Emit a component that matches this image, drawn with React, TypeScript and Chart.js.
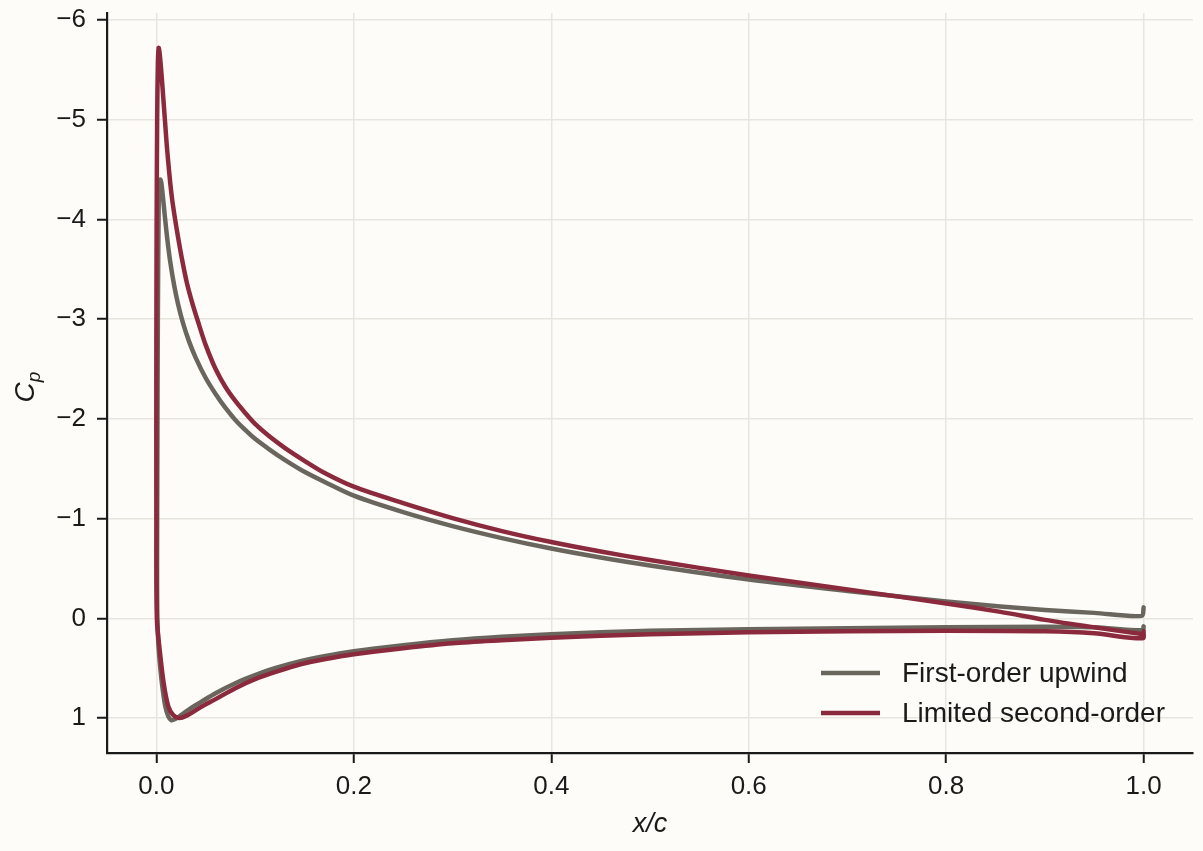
import { useEffect, useRef } from 'react';
import { Chart, registerables } from 'chart.js';

Chart.register(...registerables);

const FONT = '"Liberation Sans", Arial, sans-serif';
const TEXT = '#1a1a1a';
const AXIS = '#1a1a1a';
const GRID = '#e8e5de';
const BG = '#fdfcf9';
const GRAY = '#6a665e';
const RED = '#8b2a3c';

// first-order upwind: trailing edge (upper) -> leading edge -> trailing edge (lower)
const firstX = [
  1.0, 0.998, 0.95, 0.9, 0.855, 0.8, 0.7, 0.6, 0.5, 0.45, 0.4, 0.35, 0.3, 0.25, 0.2, 0.17, 0.15,
  0.13, 0.115, 0.1, 0.09, 0.08, 0.07, 0.06, 0.05, 0.04, 0.033, 0.027, 0.022, 0.018, 0.014, 0.011,
  0.0085, 0.0065, 0.005, 0.004, 0.003, 0.0023, 0.0015, 0.001, 0.0007,
  0.001, 0.002, 0.004, 0.006, 0.009, 0.012, 0.015, 0.019, 0.025, 0.035, 0.045, 0.06, 0.08, 0.1,
  0.12, 0.146, 0.17, 0.2, 0.25, 0.3, 0.35, 0.4, 0.45, 0.5, 0.6, 0.7, 0.8, 0.9, 0.95, 0.999, 1.0,
];
const firstCp = [
  -0.11, -0.025, -0.055, -0.085, -0.12, -0.17, -0.275, -0.39, -0.53, -0.61, -0.7, -0.805, -0.925, -1.065, -1.23, -1.37, -1.47,
  -1.59, -1.69, -1.8, -1.89, -1.99, -2.11, -2.25, -2.41, -2.61, -2.78, -2.96, -3.15, -3.34, -3.58, -3.81,
  -4.04, -4.24, -4.37, -4.4, -4.36, -4.1, -3.0, -1.6, -0.5,
  0.0, 0.25, 0.5, 0.68, 0.88, 0.98, 1.02, 1.01, 0.97, 0.9, 0.84, 0.75, 0.65, 0.57,
  0.5, 0.43, 0.38, 0.33, 0.27, 0.22, 0.185, 0.16, 0.14, 0.125, 0.11, 0.1, 0.09, 0.085, 0.09, 0.12, 0.08,
];

// limited second-order
const secondX = [
  1.0, 0.95, 0.9, 0.855, 0.8, 0.7, 0.6, 0.5, 0.45, 0.4, 0.35, 0.3, 0.25, 0.2, 0.17, 0.15,
  0.13, 0.115, 0.1, 0.09, 0.08, 0.07, 0.06, 0.05, 0.043, 0.037, 0.031, 0.026, 0.022, 0.019, 0.016,
  0.014, 0.012, 0.0105, 0.009, 0.007, 0.0055, 0.004, 0.003, 0.0023, 0.0015, 0.0008, 0.0003, 0.0, 0.0,
  0.0005, 0.0034, 0.0074, 0.012, 0.017, 0.023, 0.03, 0.045, 0.06, 0.08, 0.1, 0.12, 0.146, 0.17,
  0.2, 0.25, 0.3, 0.35, 0.4, 0.45, 0.5, 0.6, 0.7, 0.8, 0.9, 0.95, 0.999, 1.0,
];
const secondCp = [
  0.16, 0.09, 0.015, -0.065, -0.15, -0.29, -0.43, -0.585, -0.67, -0.765, -0.875, -1.005, -1.155, -1.32, -1.46, -1.58,
  -1.71, -1.82, -1.95, -2.06, -2.18, -2.32, -2.5, -2.74, -2.95, -3.14, -3.36, -3.6, -3.82, -4.0, -4.2,
  -4.37, -4.58, -4.75, -4.95, -5.22, -5.42, -5.6, -5.69, -5.72, -5.55, -5.0, -4.0, -2.8, -1.0,
  0.0, 0.32, 0.65, 0.88, 0.97, 1.0, 0.98, 0.89, 0.81, 0.7, 0.61, 0.54, 0.46, 0.41,
  0.36, 0.3, 0.25, 0.22, 0.195, 0.175, 0.16, 0.14, 0.13, 0.125, 0.13, 0.15, 0.2, 0.13,
];

const xTicks = [0, 0.2, 0.4, 0.6, 0.8, 1.0];
const yTicks = [-6, -5, -4, -3, -2, -1, 0, 1];
const legendLabels = ['First-order upwind', 'Limited second-order'];

const toPoints = (xs: number[], ys: number[]) => xs.map((x, i) => ({ x, y: ys[i] }));

const overlay = {
  id: 'overlay',
  afterDraw(chart: Chart) {
    const { ctx, chartArea } = chart;
    ctx.save();
    ctx.fillStyle = TEXT;

    // x title
    ctx.font = `italic 27px ${FONT}`;
    ctx.textAlign = 'center';
    ctx.textBaseline = 'middle';
    ctx.fillText('x/c', (chartArea.left + chartArea.right) / 2, 824);

    // y title C_p
    ctx.save();
    ctx.translate(25, (chartArea.top + chartArea.bottom) / 2 + 4);
    ctx.rotate(-Math.PI / 2);
    ctx.textAlign = 'left';
    ctx.textBaseline = 'alphabetic';
    ctx.font = `italic 28px ${FONT}`;
    const cw = ctx.measureText('C').width;
    ctx.font = `italic 19px ${FONT}`;
    const pw = ctx.measureText('p').width;
    const x0 = -(cw + pw) / 2;
    ctx.font = `italic 28px ${FONT}`;
    ctx.fillText('C', x0, 9);
    ctx.font = `italic 19px ${FONT}`;
    ctx.fillText('p', x0 + cw, 15);
    ctx.restore();

    // legend
    const colors = [GRAY, RED];
    ctx.font = `28px ${FONT}`;
    ctx.textAlign = 'left';
    ctx.textBaseline = 'middle';
    legendLabels.forEach((label, i) => {
      const y = 673 + i * 40;
      ctx.strokeStyle = colors[i];
      ctx.lineWidth = 4.5;
      ctx.beginPath();
      ctx.moveTo(chartArea.right - 372, y);
      ctx.lineTo(chartArea.right - 313, y);
      ctx.stroke();
      ctx.fillStyle = TEXT;
      ctx.fillText(label, chartArea.right - 291, y + 1);
    });
    ctx.restore();
  },
};

export default function App() {
  const canvasRef = useRef<HTMLCanvasElement>(null);
  const chartRef = useRef<Chart | null>(null);

  useEffect(() => {
    if (!canvasRef.current) return;
    if (chartRef.current) chartRef.current.destroy();

    const fmtMinus = (v: number, digits: number) => {
      const s = Math.abs(v).toFixed(digits);
      return v < 0 ? '\u2212' + s : s;
    };

    const line = (label: string, xs: number[], ys: number[], color: string) => ({
      label,
      data: toPoints(xs, ys),
      showLine: true,
      borderColor: color,
      borderWidth: 4.5,
      pointRadius: 0,
      tension: 0.3,
      borderCapStyle: 'round' as const,
      borderJoinStyle: 'round' as const,
    });

    chartRef.current = new Chart(canvasRef.current, {
      type: 'scatter',
      data: {
        // red listed first so it is drawn on top
        datasets: [
          line(legendLabels[1], secondX, secondCp, RED),
          line(legendLabels[0], firstX, firstCp, GRAY),
        ],
      },
      options: {
        animation: false,
        responsive: true,
        maintainAspectRatio: false,
        layout: { padding: { top: 13, right: 10, left: 0, bottom: 0 } },
        plugins: {
          legend: { display: false },
          tooltip: { enabled: false },
        },
        scales: {
          x: {
            type: 'linear',
            min: -0.05,
            max: 1.05,
            afterBuildTicks: (s: any) => {
              s.ticks = xTicks.map((v) => ({ value: v }));
            },
            afterFit: (s: any) => {
              s.height = 98;
              s.paddingLeft = 0;
              s.paddingRight = 0;
            },
            grid: { color: GRID, lineWidth: 1.5, tickColor: AXIS, tickWidth: 2, tickLength: 10 },
            border: { color: AXIS, width: 2.2 },
            ticks: {
              font: { family: FONT, size: 26 },
              color: TEXT,
              padding: 8,
              maxRotation: 0,
              autoSkip: false,
              callback: (v: any) => fmtMinus(Number(v), 1),
            },
          },
          y: {
            type: 'linear',
            reverse: true,
            min: -6.07,
            max: 1.35,
            afterBuildTicks: (s: any) => {
              s.ticks = yTicks.map((v) => ({ value: v }));
            },
            afterFit: (s: any) => {
              s.width = 107;
              s.paddingTop = 0;
              s.paddingBottom = 0;
            },
            grid: { color: GRID, lineWidth: 1.5, tickColor: AXIS, tickWidth: 2, tickLength: 10 },
            border: { color: AXIS, width: 2.2 },
            ticks: {
              font: { family: FONT, size: 26 },
              color: TEXT,
              padding: 11,
              autoSkip: false,
              callback: (v: any) => fmtMinus(Number(v), 0),
            },
          },
        },
      },
      plugins: [overlay],
    });

    return () => {
      if (chartRef.current) {
        chartRef.current.destroy();
        chartRef.current = null;
      }
    };
  }, []);

  return (
    <div style={{ position: 'fixed', left: 0, top: 0, width: 1203, height: 851, background: BG }}>
      <canvas ref={canvasRef} />
    </div>
  );
}
